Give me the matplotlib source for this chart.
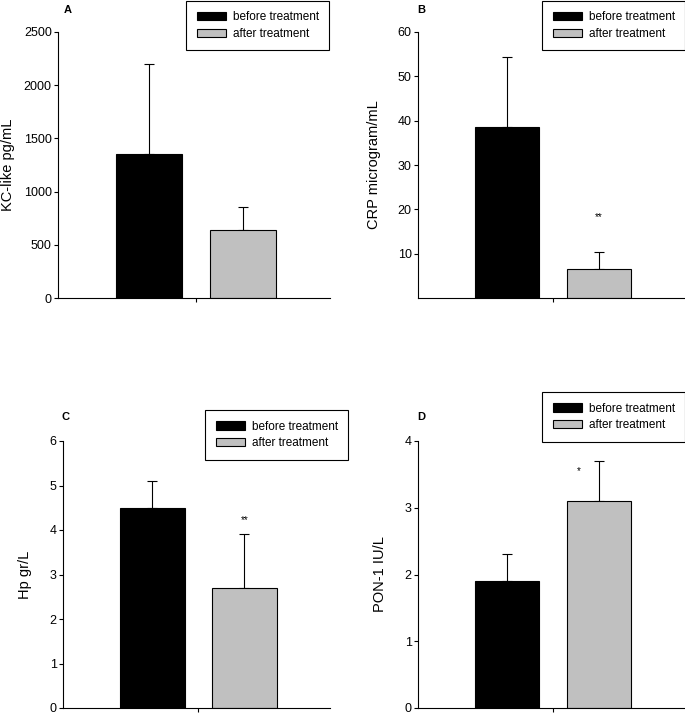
import matplotlib
matplotlib.use('Agg')
import matplotlib.pyplot as plt
from matplotlib.patches import Patch

plt.rcParams['font.family'] = ['Liberation Sans', 'DejaVu Sans']

panels = ['A', 'B', 'C', 'D']
ylabels = ['KC-like pg/mL', 'CRP microgram/mL', 'Hp gr/L', 'PON-1 IU/L']
before = [1350, 38.5, 4.5, 1.9]
before_err = [850, 15.9, 0.6, 0.4]
after = [640, 6.5, 2.7, 3.1]
after_err = [215, 3.8, 1.2, 0.6]
signif = ['', '**', '**', '*']
signif_y = [None, 18.2, 4.22, 3.55]
yticks = [[0, 500, 1000, 1500, 2000, 2500],
          [10, 20, 30, 40, 50, 60],
          [0, 1, 2, 3, 4, 5, 6],
          [0, 1, 2, 3, 4]]
ytop = [2500, 60, 6, 4]
series = ['before treatment', 'after treatment']

W, H = 685, 713
fig = plt.figure(figsize=(W / 100, H / 100), dpi=100)

# axes boxes in pixels: left, top, right, bottom
boxes = [(58, 32, 330, 298), (418, 32, 684, 298),
         (63, 441, 330, 708), (418, 441, 684, 708)]
# legend upper-left corners in pixels
legend_pos = [(186, 0.5), (542, 0.5), (205, 410), (542, 392)]
# panel letter positions in pixels
letter_pos = [(68, 10), (421, 10), (66, 417), (421, 417)]
label_x = [-0.158, -0.14, -0.116, -0.115]

gray = '#c0c0c0'

for i in range(4):
    l, t, r, b = boxes[i]
    ax = fig.add_axes([l / W, 1 - b / H, (r - l) / W, (b - t) / H])
    x = [-0.5, 0.5]
    ax.bar(x[0], before[i], width=0.7, color='black', edgecolor='black',
           linewidth=0.8, zorder=2)
    ax.bar(x[1], after[i], width=0.7, color=gray, edgecolor='black',
           linewidth=0.8, zorder=2)
    ax.errorbar(x, [before[i], after[i]],
                yerr=[[0, 0], [before_err[i], after_err[i]]],
                fmt='none', ecolor='black', elinewidth=0.8,
                capsize=3.6, capthick=0.8, zorder=1)
    if signif[i]:
        sx = 0.28 if signif[i] == '*' else 0.5
        ax.text(sx, signif_y[i], signif[i], ha='center', va='center',
                fontsize=7)

    ax.set_xlim(-1.47, 1.43)
    ax.set_ylim(0, ytop[i])
    ax.set_yticks(yticks[i])
    ax.set_xticks([0])
    ax.set_xticklabels([''])
    ax.tick_params(axis='both', length=3, width=0.8, pad=1.5,
                   labelsize=9, direction='out')
    for s in ['top', 'right']:
        ax.spines[s].set_visible(False)
    for s in ['left', 'bottom']:
        ax.spines[s].set_linewidth(0.8)

    ax.set_ylabel(ylabels[i], fontsize=10.5)
    ax.yaxis.set_label_coords(label_x[i], 0.5)

    lx, ly = legend_pos[i]
    handles = [Patch(facecolor='black', edgecolor='black', linewidth=0.8),
               Patch(facecolor=gray, edgecolor='black', linewidth=0.8)]
    leg = ax.legend(handles, series, loc='upper left',
                    bbox_to_anchor=(lx / W, 1 - ly / H),
                    bbox_transform=fig.transFigure, borderaxespad=0,
                    fontsize=8.5, fancybox=False, framealpha=1,
                    edgecolor='black', handlelength=2.45, handleheight=0.7,
                    handletextpad=0.6, borderpad=0.9, labelspacing=0.4)
    leg.get_frame().set_linewidth(0.8)

    px, py = letter_pos[i]
    fig.text(px / W, 1 - py / H, panels[i], ha='center', va='center',
             fontsize=8, fontweight='bold')

fig.savefig('out.png', dpi=100)
